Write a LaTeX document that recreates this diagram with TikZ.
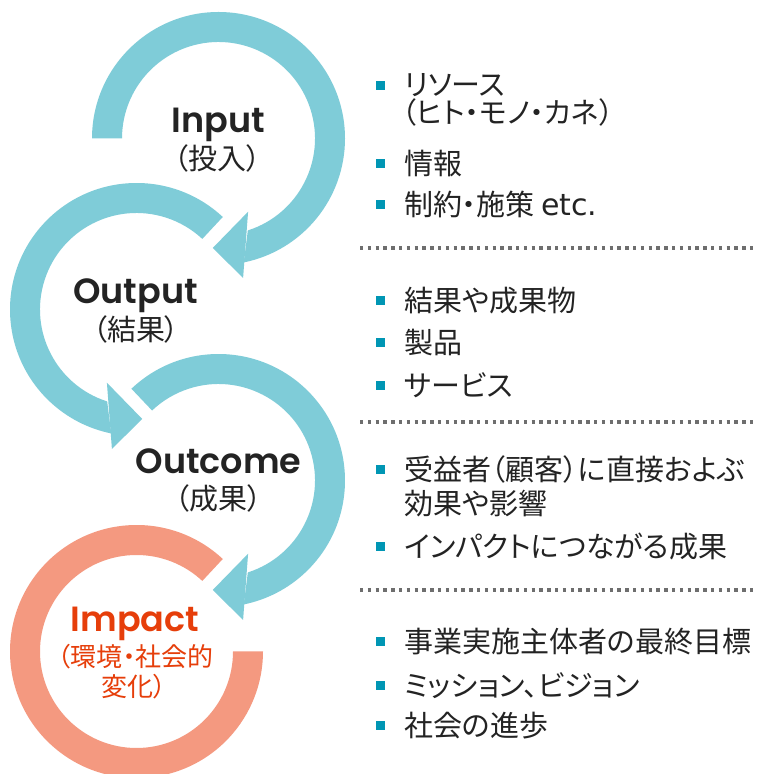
\documentclass[tikz,border=0pt]{standalone}
\usepackage{fontspec}
\setmainfont{Noto Sans CJK JP}[RawFeature=+palt]
\newfontfamily\labfont{Poppins SemiBold}
\newfontfamily\etcfont{DejaVu Sans}
\usetikzlibrary{calc}
\definecolor{cyanband}{RGB}{127,204,216}
\definecolor{salmonband}{RGB}{244,153,128}
\definecolor{impactred}{RGB}{230,62,10}
\definecolor{bulletteal}{RGB}{0,150,180}
\definecolor{txt}{RGB}{35,35,35}
\definecolor{dotgray}{RGB}{110,110,110}
\begin{document}
\begin{tikzpicture}[x=1pt,y=1pt,
  lab/.style={font=\labfont\fontsize{35}{35}\selectfont, text=txt, anchor=base, inner sep=0pt, text depth=0pt},
  jlab/.style={font=\fontsize{29}{29}\selectfont, text=txt, anchor=base, inner sep=0pt, text height=22pt, text depth=3pt},
  jlabs/.style={font=\fontsize{26}{26}\selectfont, text=impactred, anchor=base, inner sep=0pt, text height=20pt, text depth=0pt},
  item/.style={font=\fontsize{29}{29}\selectfont, text=txt, anchor=base west, inner sep=0pt, text height=23pt, text depth=3pt},
  bul/.style={fill=bulletteal, minimum size=9pt, inner sep=0pt, draw=none},
  sep/.style={draw=dotgray, line width=3.3pt, dash pattern=on 3.3pt off 4.5pt}]
\useasboundingbox (0,0) rectangle (760,774);
\fill[white] (0,0) rectangle (760,774);
\coordinate (c1) at (218.5,635.5);
\coordinate (c2) at (136.5,464.5);
\coordinate (c3) at (218.5,293.5);
\coordinate (c4) at (136.5,122.5);
% circle 1 (Input), clockwise from left
\fill[cyanband] ($(c1)+(180:126.5)$) arc[start angle=180, end angle=-78.5, radius=126.5]
  -- ($(c1)+(-72.3:96.5)$) arc[start angle=-72.3, end angle=180, radius=96.5] -- cycle;
\fill[cyanband] ($(c1)+(-68:79)$) -- ($(c1)+(-80:141.6)$) -- ($(c1)+(-93:109.6)$) -- cycle;
% circle 2 (Output), counter-clockwise
\fill[cyanband] ($(c2)+(47:126.5)$) arc[start angle=47, end angle=258.5, radius=126.5]
  -- ($(c2)+(252.3:96.5)$) arc[start angle=252.3, end angle=47, radius=96.5] -- cycle;
\fill[cyanband] ($(c2)+(248:79)$) -- ($(c2)+(260:141.6)$) -- ($(c2)+(273:109.6)$) -- cycle;
% circle 3 (Outcome), clockwise
\fill[cyanband] ($(c3)+(133.5:126.5)$) arc[start angle=133.5, end angle=-78.5, radius=126.5]
  -- ($(c3)+(-72.3:96.5)$) arc[start angle=-72.3, end angle=133.5, radius=96.5] -- cycle;
\fill[cyanband] ($(c3)+(-68:79)$) -- ($(c3)+(-80:141.6)$) -- ($(c3)+(-93:109.6)$) -- cycle;
% circle 4 (Impact)
\fill[salmonband] ($(c4)+(47:126.5)$) arc[start angle=47, end angle=360, radius=126.5]
  -- ($(c4)+(0:96.5)$) arc[start angle=360, end angle=47, radius=96.5] -- cycle;
% labels
\node[lab] (inp) at (218.5,641) {Input};
\node[jlab] (inpj) at (217.5,604) {（投入）};
\node[lab] (outp) at (135.5,470) {Output};
\node[jlab] (outpj) at (136,433) {（結果）};
\node[lab] (outc) at (218.5,300) {Outcome};
\node[jlab] (outcj) at (218.5,264) {（成果）};
\node[lab, text=impactred] (imp) at (135,142) {Impact};
\node[jlabs] (impj1) at (135.5,107) {（環境・社会的};
\node[jlabs] (impj2) at (133.5,77) {変化）};
% right column
\node[bul] (b1) at (380.5,688) {};
\node[item] (t1) at (404,678) {リソース};
\node[item] (t1b) at (402,650) {（ヒト・モノ・カネ）};
\node[bul] (b2) at (380.5,610) {};
\node[item] (t2) at (404,599) {情報};
\node[bul] (b3) at (380.5,569) {};
\node[item] (t3) at (404,558) {制約・施策 {\etcfont\fontsize{30}{30}\selectfont etc.}};
\coordinate (s1a) at (360,526); \coordinate (s1b) at (757,526);
\draw[sep] (s1a) -- (s1b);
\node[bul] (b4) at (380.5,473) {};
\node[item] (t4) at (404,462) {結果や成果物};
\node[bul] (b5) at (380.5,431) {};
\node[item] (t5) at (404,420) {製品};
\node[bul] (b6) at (380.5,388) {};
\node[item] (t6) at (404,377) {サービス};
\coordinate (s2a) at (360,352); \coordinate (s2b) at (757,352);
\draw[sep] (s2a) -- (s2b);
\node[bul] (b7) at (380.5,304) {};
\node[item] (t7) at (404,293) {受益者（顧客）に直接およぶ};
\node[item] (t7b) at (404,259) {効果や影響};
\node[bul] (b8) at (380.5,227) {};
\node[item] (t8) at (404,216) {インパクトにつながる成果};
\coordinate (s3a) at (360,184); \coordinate (s3b) at (757,184);
\draw[sep] (s3a) -- (s3b);
\node[bul] (b9) at (380.5,132) {};
\node[item] (t9) at (404,121) {事業実施主体者の最終目標};
\node[bul] (b10) at (380.5,88) {};
\node[item] (t10) at (404,77) {ミッション、ビジョン};
\node[bul] (b11) at (380.5,48) {};
\node[item] (t11) at (404,37) {社会の進歩};
\end{tikzpicture}
\end{document}
